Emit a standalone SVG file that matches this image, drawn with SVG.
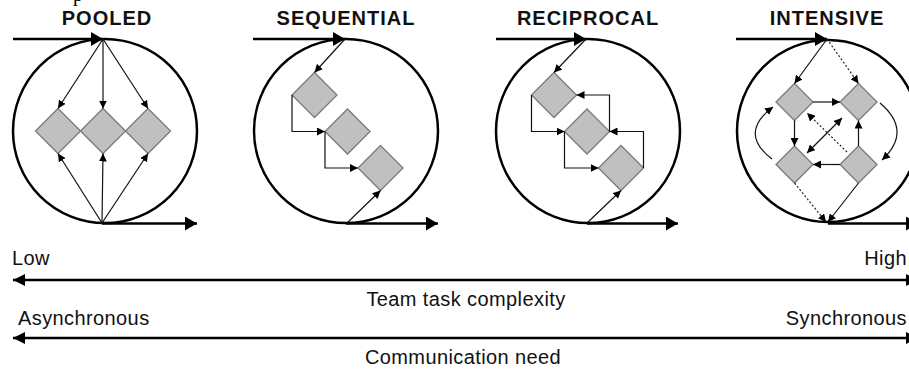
<svg xmlns="http://www.w3.org/2000/svg" width="909" height="372" viewBox="0 0 909 372">
  <style>
    .title { font-family: "Liberation Sans", Arial, sans-serif; font-weight: bold; font-size: 20px; letter-spacing: 1px; text-anchor: middle; fill: #111; }
    .label { font-family: "Liberation Sans", Arial, sans-serif; font-size: 20px; letter-spacing: 0.4px; fill: #111; }
    .ring { fill: none; stroke: #000; stroke-width: 2.5; }
    .flow { fill: none; stroke: #000; stroke-width: 2.5; marker-end: url(#big); }
    .task { fill: #c0c0c0; stroke: #7a7a7a; stroke-width: 1.3; }
    .link { fill: none; stroke: #111; stroke-width: 1.2; marker-end: url(#small); }
    .dot { fill: none; stroke: #222; stroke-width: 1.2; stroke-dasharray: 2 2; marker-end: url(#small); }
    .axis { fill: none; stroke: #000; stroke-width: 2.5; marker-start: url(#axisHead); marker-end: url(#axisHead); }
  </style>
  <defs>
    <marker id="big" markerUnits="userSpaceOnUse" markerWidth="13" markerHeight="14" refX="12" refY="7" orient="auto">
      <path d="M0,0 L12,7 L0,14 z" fill="#000"/>
    </marker>
    <marker id="small" markerUnits="userSpaceOnUse" markerWidth="9" markerHeight="8" refX="8" refY="4" orient="auto">
      <path d="M0,0 L8,4 L0,8 z" fill="#000"/>
    </marker>
    <marker id="smallStart" markerUnits="userSpaceOnUse" markerWidth="9" markerHeight="8" refX="8" refY="4" orient="auto-start-reverse">
      <path d="M0,0 L8,4 L0,8 z" fill="#000"/>
    </marker>
    <marker id="axisHead" markerUnits="userSpaceOnUse" markerWidth="13" markerHeight="12" refX="12" refY="6" orient="auto-start-reverse">
      <path d="M0,0 L12,6 L0,12 z" fill="#000"/>
    </marker>
    <path id="dia" d="M0,-22.5 L22.5,0 L0,22.5 L-22.5,0 z"/>
    <path id="diaS" d="M0,-18.5 L18.5,0 L0,18.5 L-18.5,0 z"/>
  </defs>

  <!-- caption fragment at the top edge -->
  <text x="73" y="0.5" font-family="Liberation Serif, serif" font-size="20" fill="#000">p</text>

  <!-- titles -->
  <text class="title" x="107" y="25">POOLED</text>
  <text class="title" x="346" y="25">SEQUENTIAL</text>
  <text class="title" x="588" y="25">RECIPROCAL</text>
  <text class="title" x="827" y="25">INTENSIVE</text>

  <!-- pooled -->
  <g id="pooled">
    <circle class="ring" cx="105" cy="131" r="92"/>
    <use href="#dia" class="task" x="58" y="131"/>
    <use href="#dia" class="task" x="103" y="131"/>
    <use href="#dia" class="task" x="148" y="131"/>
  </g>

  <!-- sequential -->
  <g id="sequential">
    <circle class="ring" cx="346" cy="131" r="92"/>
    <use href="#dia" class="task" x="314.5" y="95"/>
    <use href="#dia" class="task" x="347.5" y="131.5"/>
    <use href="#dia" class="task" x="380.5" y="168"/>
  </g>

  <!-- reciprocal -->
  <g id="reciprocal">
    <circle class="ring" cx="588" cy="131" r="92"/>
    <use href="#dia" class="task" x="554" y="95"/>
    <use href="#dia" class="task" x="587" y="131.5"/>
    <use href="#dia" class="task" x="621" y="168"/>
  </g>

  <!-- intensive -->
  <g id="intensive">
    <circle class="ring" cx="828" cy="131" r="91"/>
    <use href="#diaS" class="task" x="794.5" y="102"/>
    <use href="#diaS" class="task" x="858.5" y="102"/>
    <use href="#diaS" class="task" x="794.5" y="164.5"/>
    <use href="#diaS" class="task" x="858.5" y="164.5"/>
  </g>

  <g id="connectors">
    <!-- input and output flows -->
    <path class="flow" d="M13,39 H103"/>
    <path class="flow" d="M102,223.5 H197"/>
    <path class="flow" d="M253,39 H345"/>
    <path class="flow" d="M346,223.5 H438"/>
    <path class="flow" d="M496,39 H586"/>
    <path class="flow" d="M587,223.5 H678"/>
    <path class="flow" d="M736,39 H827"/>
    <path class="flow" d="M828,223.5 H918"/>

    <!-- pooled links -->
    <path class="link" d="M103,39 L58,108.5"/>
    <path class="link" d="M103,39 L103,108.5"/>
    <path class="link" d="M103,39 L148,108.5"/>
    <path class="link" d="M102,223 L58,153.5"/>
    <path class="link" d="M102,223 L103,153.5"/>
    <path class="link" d="M102,223 L148,153.5"/>

    <!-- sequential links -->
    <path class="link" d="M345,39 L314.5,72.5"/>
    <path class="link" d="M292,95 V131.5 H325"/>
    <path class="link" d="M325,131.5 V168 H358"/>
    <path class="link" d="M347,223 L380.5,190.5"/>

    <!-- reciprocal links -->
    <path class="link" d="M586,39 L554,72.5"/>
    <path class="link" d="M531.5,95 V131.5 H564.5"/>
    <path class="link" d="M564.5,131.5 V168 H598.5"/>
    <path class="link" d="M643.5,168 V131.5 H609.5"/>
    <path class="link" d="M609.5,131.5 V95 H576.5"/>
    <path class="link" d="M587,223 L621,190.5"/>

    <!-- intensive links -->
    <path class="link" d="M827,39 L794.5,83.5"/>
    <path class="dot" d="M827,39 L858.5,83.5"/>
    <path class="link" d="M813,102 H840"/>
    <path class="link" d="M794.5,120.5 V146"/>
    <path class="link" d="M858.5,146 V120.5"/>
    <path class="link" d="M840,164.5 H813"/>
    <path class="link" d="M807,153 L842,118" marker-start="url(#smallStart)"/>
    <path class="dot" d="M847,152 L807,113"/>
    <path class="link" d="M772,159 Q738,133 773,107"/>
    <path class="link" d="M880,103 Q913,131 882,160"/>
    <path class="dot" d="M794.5,183 L826,222"/>
    <path class="link" d="M858.5,183 L828,222"/>

    <!-- scales -->
    <path class="axis" d="M13,280 H918"/>
    <path class="axis" d="M13,338 H918"/>
  </g>

  <!-- scale labels -->
  <text class="label" x="12" y="265">Low</text>
  <text class="label" x="907" y="265" text-anchor="end">High</text>
  <text class="label" x="466" y="306" text-anchor="middle">Team task complexity</text>
  <text class="label" x="18" y="325">Asynchronous</text>
  <text class="label" x="907" y="325" text-anchor="end">Synchronous</text>
  <text class="label" x="463" y="364" text-anchor="middle">Communication need</text>
</svg>
